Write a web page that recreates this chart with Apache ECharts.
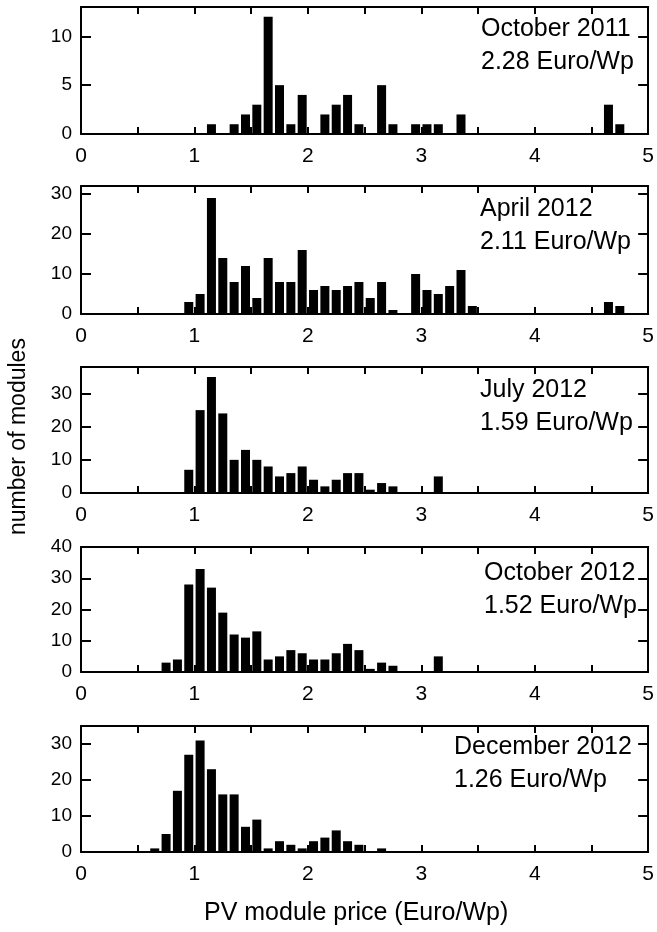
<!DOCTYPE html>
<html>
<head>
<meta charset="utf-8">
<script src="https://cdn.jsdelivr.net/npm/echarts@6/dist/echarts.min.js"></script>
<style>
  html, body { margin: 0; padding: 0; background: #fff; }
  #main { width: 657px; height: 932px; }
</style>
</head>
<body>
<div id="main"></div>
<script>
// bin centres (Euro/Wp, 0.1 wide bins) and module counts per survey
const oct2011Price = [1.15, 1.35, 1.45, 1.55, 1.65, 1.75, 1.85, 1.95, 2.15, 2.25, 2.35, 2.45, 2.65, 2.75, 2.95, 3.05, 3.15, 3.35, 4.65, 4.75];
const oct2011Count = [1, 1, 2, 3, 12, 5, 1, 4, 2, 3, 4, 1, 5, 1, 1, 1, 1, 2, 3, 1];

const apr2012Price = [0.95, 1.05, 1.15, 1.25, 1.35, 1.45, 1.55, 1.65, 1.75, 1.85, 1.95, 2.05, 2.15, 2.25, 2.35, 2.45, 2.55, 2.65, 2.75, 2.95, 3.05, 3.15, 3.25, 3.35, 3.45, 4.65, 4.75];
const apr2012Count = [3, 5, 29, 14, 8, 12, 4, 14, 8, 8, 16, 6, 7, 6, 7, 8, 4, 8, 1, 10, 6, 5, 7, 11, 2, 3, 2];

const jul2012Price = [0.95, 1.05, 1.15, 1.25, 1.35, 1.45, 1.55, 1.65, 1.75, 1.85, 1.95, 2.05, 2.15, 2.25, 2.35, 2.45, 2.55, 2.65, 2.75, 3.15];
const jul2012Count = [7, 25, 35, 24, 10, 13, 10, 8, 5, 6, 8, 4, 2, 4, 6, 6, 1, 3, 2, 5];

const oct2012Price = [0.75, 0.85, 0.95, 1.05, 1.15, 1.25, 1.35, 1.45, 1.55, 1.65, 1.75, 1.85, 1.95, 2.05, 2.15, 2.25, 2.35, 2.45, 2.55, 2.65, 2.75, 3.15];
const oct2012Count = [3, 4, 28, 33, 27, 19, 12, 11, 13, 4, 5, 7, 6, 4, 4, 6, 9, 7, 1, 3, 2, 5];

const dec2012Price = [0.65, 0.75, 0.85, 0.95, 1.05, 1.15, 1.25, 1.35, 1.45, 1.55, 1.65, 1.75, 1.85, 1.95, 2.05, 2.15, 2.25, 2.35, 2.45, 2.65];
const dec2012Count = [1, 5, 17, 27, 31, 23, 16, 16, 7, 9, 1, 3, 2, 1, 3, 4, 6, 3, 2, 1];

const panelLabels = [
  'October 2011\n2.28 Euro/Wp',
  'April 2012\n2.11 Euro/Wp',
  'July 2012\n1.59 Euro/Wp',
  'October 2012\n1.52 Euro/Wp',
  'December 2012\n1.26 Euro/Wp'
];
const yMax = [13, 32, 38, 40, 35];
const yStep = [5, 10, 10, 10, 10];

const panels = [
  [oct2011Price, oct2011Count],
  [apr2012Price, apr2012Count],
  [jul2012Price, jul2012Count],
  [oct2012Price, oct2012Count],
  [dec2012Price, dec2012Count]
];

// layout
const gridTops = [7, 186, 367, 547, 726];
const gridHeights = [127, 128, 126, 125, 126];
const labelPos = [[481, 13], [480, 193], [480, 374], [484, 557], [454, 731]];

const FONT = 'Liberation Sans, Arial, sans-serif';
const lineStyle = { color: '#000', width: 2 };

const grid = [], xAxis = [], yAxis = [], series = [], title = [];

panels.forEach(function (p, i) {
  grid.push({ left: 81, right: 6, top: gridTops[i], height: gridHeights[i] });

  const xBase = {
    type: 'value', gridIndex: i, min: 0, max: 5, interval: 0.5,
    axisLine: { show: true, onZero: false, lineStyle: lineStyle },
    axisTick: { show: true, inside: true, length: 7, lineStyle: lineStyle },
    splitLine: { show: false }
  };
  xAxis.push(Object.assign({}, xBase, {
    position: 'bottom',
    axisLabel: {
      color: '#000', fontFamily: FONT, fontSize: 21, margin: 12,
      formatter: function (v) { return v % 1 === 0 ? String(v) : ''; }
    }
  }));
  xAxis.push(Object.assign({}, xBase, { position: 'top', axisLabel: { show: false } }));

  const yBase = {
    type: 'value', gridIndex: i, min: 0, max: yMax[i], interval: yStep[i],
    axisLine: { show: true, onZero: false, lineStyle: lineStyle },
    axisTick: { show: true, inside: true, length: 10, lineStyle: lineStyle },
    splitLine: { show: false }
  };
  yAxis.push(Object.assign({}, yBase, {
    position: 'left',
    axisLabel: {
      color: '#000', fontFamily: FONT, fontSize: 19, margin: 9,
      formatter: function (v) { return v % yStep[i] === 0 ? String(v) : ''; }
    }
  }));
  yAxis.push(Object.assign({}, yBase, { position: 'right', axisLabel: { show: false } }));

  series.push({
    type: 'bar',
    xAxisIndex: i * 2,
    yAxisIndex: i * 2,
    barWidth: 9,
    itemStyle: { color: '#000' },
    data: p[0].map(function (x, k) { return [x, p[1][k]]; })
  });

  title.push({
    text: panelLabels[i],
    left: labelPos[i][0],
    top: labelPos[i][1],
    padding: 0,
    textStyle: { color: '#000', fontFamily: FONT, fontSize: 25, fontWeight: 'normal', lineHeight: 33 }
  });
});

const chart = echarts.init(document.getElementById('main'), null, { renderer: 'canvas' });
chart.setOption({
  animation: false,
  backgroundColor: '#fff',
  title: title,
  grid: grid,
  xAxis: xAxis,
  yAxis: yAxis,
  series: series,
  graphic: [
    {
      type: 'text', left: 204, top: 901,
      style: { text: 'PV module price (Euro/Wp)', fill: '#000', font: '25px ' + FONT }
    },
    {
      type: 'text', rotation: Math.PI / 2, x: 7, y: 535,
      style: { text: 'number of modules', fill: '#000', font: '23px ' + FONT }
    }
  ]
});
</script>
</body>
</html>
